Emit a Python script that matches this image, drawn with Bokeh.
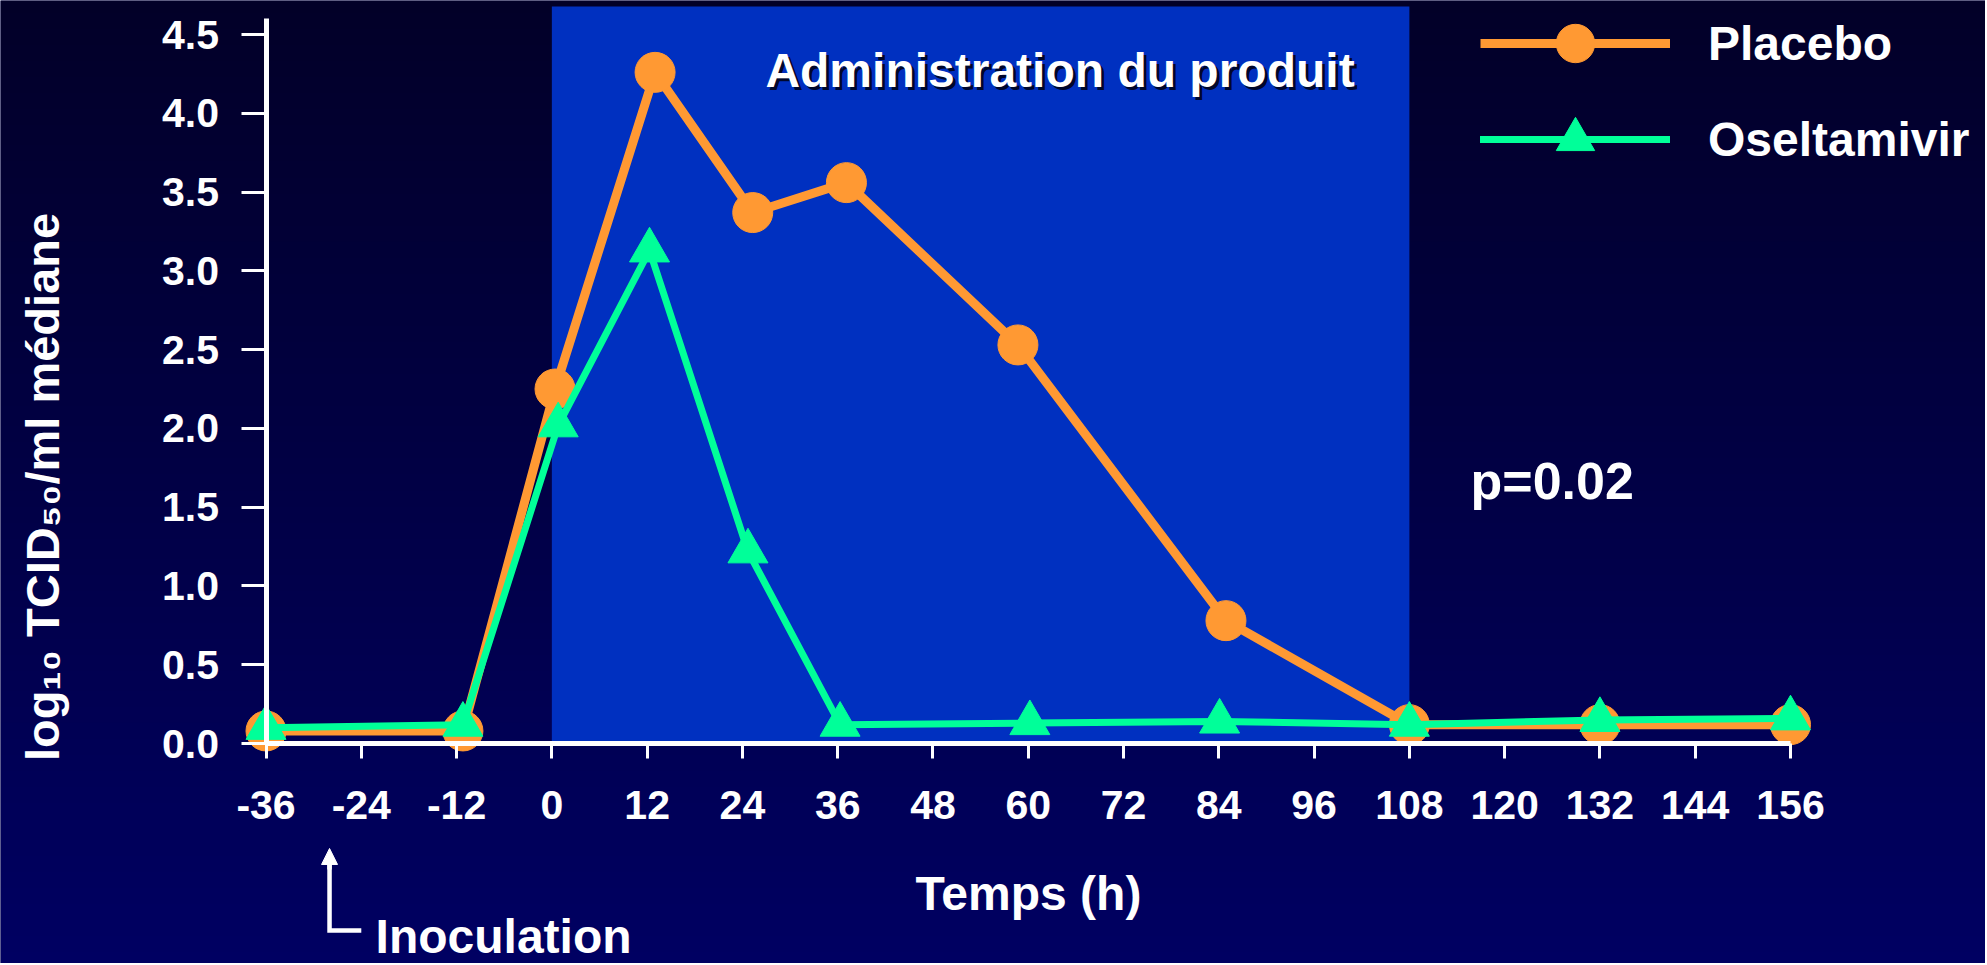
import numpy as np
from bokeh.plotting import figure
from bokeh.models import (Range1d, FixedTicker, LinearAxis, BoxAnnotation, Arrow, NormalHead,
                          Legend, LegendItem, PrintfTickFormatter)
from bokeh.core.properties import value
from bokeh.embed import file_html
from bokeh.resources import INLINE

# ---------------- data ----------------
placebo_time = [-36, -11.2, 0.4, 13, 25.3, 37.1, 58.7, 84.9, 108, 132, 156]
placebo_titer = [0.08, 0.08, 2.25, 4.26, 3.37, 3.56, 2.53, 0.78, 0.12, 0.12, 0.12]
oselta_time = [-36, -11.2, 0.8, 12.3, 24.7, 36.3, 60.2, 84.1, 108, 132, 156]
oselta_titer = [0.10, 0.12, 2.02, 3.13, 1.22, 0.12, 0.13, 0.14, 0.12, 0.15, 0.16]
series_names = ["Placebo", "Oseltamivir"]
x_ticks = [-36, -24, -12, 0, 12, 24, 36, 48, 60, 72, 84, 96, 108, 120, 132, 144, 156]
y_ticks = [0.0, 0.5, 1.0, 1.5, 2.0, 2.5, 3.0, 3.5, 4.0, 4.5]
admin_start, admin_end = 0, 108
inoculation_time = -28
p_value_text = "p=0.02"

# ---------------- styles ----------------
ORANGE = "#FF9933"
GREEN = "#00FF99"
BLUE = "#0030C0"
WHITE = "#FFFFFF"
FONT = value("Liberation Sans")
W, H = 1985, 963
X0, X1 = -69.44, 180.56
Y0, Y1 = -1.396, 4.716

p = figure(width=W, height=H, output_backend="svg", toolbar_location=None,
           x_range=Range1d(X0, X1), y_range=Range1d(Y0, Y1),
           min_border=0, min_border_left=0, min_border_right=0,
           min_border_top=0, min_border_bottom=0)
p.outline_line_color = None
p.grid.visible = False
p.background_fill_color = "#000048"
p.border_fill_color = "#000048"

# background vertical gradient (dark navy at top -> brighter navy at bottom)
n = 240
t = np.linspace(0.0, 1.0, n)
img = np.empty((n, 1), dtype=np.uint32)
v = img.view(dtype=np.uint8).reshape((n, 1, 4))
v[:, 0, 0] = np.round(0 + 2 * t).astype(np.uint8)
v[:, 0, 1] = 0
v[:, 0, 2] = np.round(98 + (40 - 98) * t).astype(np.uint8)
v[:, 0, 3] = 255
p.image_rgba(image=[img], x=X0, y=Y0, dw=X1 - X0, dh=Y1 - Y0, level="image")

# drug administration period
p.add_layout(BoxAnnotation(left=admin_start, right=admin_end, bottom=0, top=4.678,
                           fill_color=BLUE, fill_alpha=1.0, line_alpha=0, level="underlay"))

# series
pl_line = p.line(placebo_time, placebo_titer, line_color=ORANGE, line_width=9, line_join="round")
pl_pts = p.scatter(placebo_time, placebo_titer, marker="circle", size=40,
                   fill_color=ORANGE, line_color=ORANGE)
os_line = p.line(oselta_time, oselta_titer, line_color=GREEN, line_width=7,
                 line_join="round", line_cap="round")
os_pts = p.scatter(oselta_time, oselta_titer, marker="triangle", size=40,
                   fill_color=GREEN, line_color=GREEN)

# axes
xa = p.xaxis[0]
xa.fixed_location = 0
xa.bounds = (x_ticks[0], x_ticks[-1])
xa.ticker = FixedTicker(ticks=x_ticks)
xa.formatter = PrintfTickFormatter(format="%d")
xa.axis_line_color = WHITE
xa.axis_line_width = 5
xa.major_tick_line_color = WHITE
xa.major_tick_line_width = 3
xa.major_tick_out = 15
xa.major_tick_in = 0
xa.minor_tick_line_color = None
xa.major_label_text_color = WHITE
xa.major_label_text_font = "Liberation Sans"
xa.major_label_text_font_size = "41px"
xa.major_label_text_font_style = "bold"
xa.major_label_standoff = 32
xa.axis_label = "Temps (h)"
xa.axis_label_text_color = WHITE
xa.axis_label_text_font = "Liberation Sans"
xa.axis_label_text_font_size = "48px"
xa.axis_label_text_font_style = "bold"
xa.axis_label_standoff = 45

ya = p.yaxis[0]
ya.fixed_location = x_ticks[0]
ya.bounds = (0, 4.6)
ya.ticker = FixedTicker(ticks=y_ticks)
ya.formatter = PrintfTickFormatter(format="%.1f")
ya.axis_line_color = WHITE
ya.axis_line_width = 5
ya.major_tick_line_color = WHITE
ya.major_tick_line_width = 3
ya.major_tick_out = 25
ya.major_tick_in = 0
ya.minor_tick_line_color = None
ya.major_label_text_color = WHITE
ya.major_label_text_font = "Liberation Sans"
ya.major_label_text_font_size = "41px"
ya.major_label_text_font_style = "bold"
ya.major_label_standoff = 22

# separate axis that only carries the y title, centred like the original
ylab = LinearAxis(fixed_location=x_ticks[0], bounds=(-0.07, 3.41),
                  ticker=FixedTicker(ticks=[]),
                  axis_line_color=None, major_tick_line_color=None, minor_tick_line_color=None,
                  major_tick_out=0, minor_tick_out=0,
                  axis_label="log\u2081\u2080  TCID\u2085\u2080/ml m\u00e9diane",
                  axis_label_text_color=WHITE, axis_label_text_font="Liberation Sans",
                  axis_label_text_font_size="47px", axis_label_text_font_style="bold",
                  axis_label_standoff=198)
p.add_layout(ylab, "left")

# texts
p.text(x=[64.0], y=[4.271], text=["Administration du produit"], text_font=FONT,
       text_font_size="48px", text_font_style="bold", text_color="#000010", text_alpha=0.85,
       text_align="center", text_baseline="alphabetic", x_offset=3, y_offset=3)
p.text(x=[64.0], y=[4.271], text=["Administration du produit"], text_font=FONT,
       text_font_size="48px", text_font_style="bold", text_color=WHITE,
       text_align="center", text_baseline="alphabetic")
p.text(x=[115.7], y=[1.669], text=[p_value_text], text_font=FONT,
       text_font_size="52px", text_font_style="bold", text_color=WHITE,
       text_align="left", text_baseline="alphabetic")

# inoculation marker
p.line(x=[inoculation_time, inoculation_time, inoculation_time + 4],
       y=[-0.72, -1.187, -1.187], line_color=WHITE, line_width=4.5, line_join="miter")
p.add_layout(Arrow(x_start=inoculation_time, y_start=-0.80, x_end=inoculation_time, y_end=-0.666,
                   line_color=WHITE, line_width=4.5,
                   end=NormalHead(size=16, fill_color=WHITE, line_color=WHITE, line_width=1)))
p.text(x=[-22.2], y=[-1.225], text=["Inoculation"], text_font=FONT,
       text_font_size="48px", text_font_style="bold", text_color=WHITE,
       text_align="left", text_baseline="alphabetic")

# legend
legend = Legend(items=[LegendItem(label=series_names[0], renderers=[pl_line, pl_pts]),
                       LegendItem(label=series_names[1], renderers=[os_line, os_pts])],
                location=(1480, 776), orientation="vertical",
                glyph_width=190, glyph_height=96, spacing=0, padding=0, margin=0,
                label_standoff=38, label_text_font="Liberation Sans",
                label_text_font_size="48px", label_text_font_style="bold",
                label_text_color=WHITE, label_text_baseline="middle",
                background_fill_alpha=0, border_line_alpha=0)
p.add_layout(legend)

open("out.html", "w").write(file_html(p, INLINE))
